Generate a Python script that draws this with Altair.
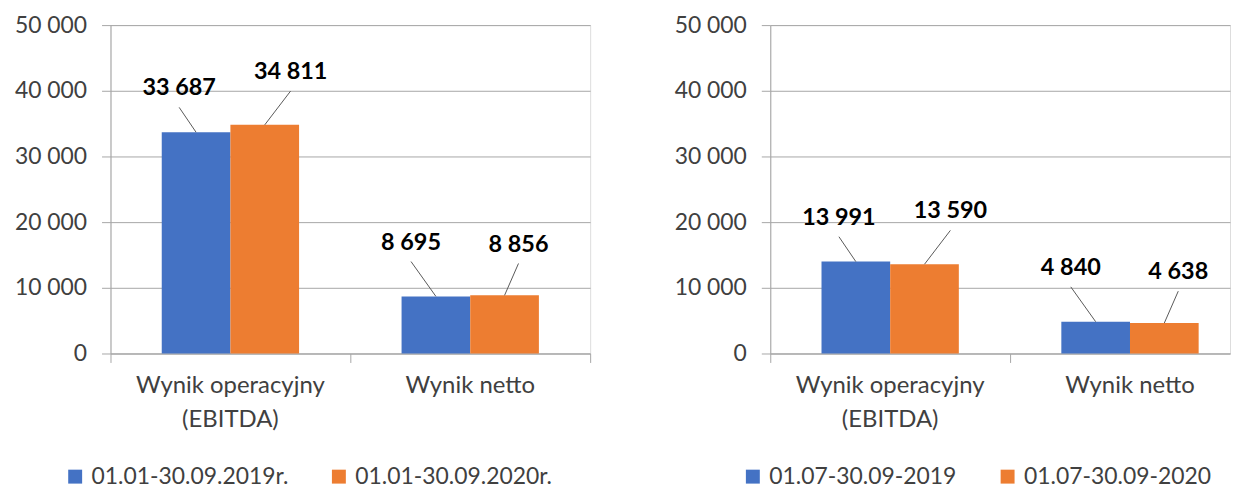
import altair as alt
import pandas as pd

# ---------------- data ----------------
categories = ["Wynik operacyjny\n(EBITDA)", "Wynik netto"]

left_series = ["01.01-30.09.2019r.", "01.01-30.09.2020r."]
left_2019 = [33687, 8695]
left_2020 = [34811, 8856]

right_series = ["01.07-30.09-2019", "01.07-30.09-2020"]
right_2019 = [13991, 4840]
right_2020 = [13590, 4638]

y_ticks = [0, 10000, 20000, 30000, 40000, 50000]
colors = ["#4472C4", "#ED7D31"]

# ---------------- styling ----------------
FONT = "Lato"
STEP = 241.0             # px per category band
PLOT_H = 330
PY = 50000.0 / PLOT_H    # data units per px (y)
BW = 69.0 / STEP         # bar width in band units
GRID = "#a6a6a6"
TXT = "#404040"


def panel(series, v1, v2, width, xmax, legend_x):
    rows = []
    for ci, cat in enumerate(categories):
        for si, vals in enumerate([v1, v2]):
            rows.append(dict(cat=cat, ci=ci, series=series[si], si=si, value=vals[ci]))
    df = pd.DataFrame(rows)

    xs = alt.Scale(domain=[0, xmax], nice=False, zero=False)
    ys = alt.Scale(domain=[0, 50000], nice=False)
    xax = alt.Axis(values=[0, 1, 2], labels=False, grid=False, tickSize=9,
                   tickColor=GRID, domainColor=GRID, title=None)
    yax = alt.Axis(values=y_ticks, labelExpr="replace(format(datum.value, ','), ',', ' ')",
                   tickSize=9, tickColor=GRID, domainColor=GRID, gridColor=GRID,
                   labelFont=FONT, labelFontSize=23, labelColor=TXT, labelPadding=15,
                   minExtent=96, maxExtent=96, title=None)

    base = alt.Chart(df).transform_calculate(
        xc=f"datum.ci + 0.5 + (datum.si - 0.5) * {BW}",
        x0=f"datum.xc - {BW / 2}",
        x1=f"datum.xc + {BW / 2}",
        dxpx="datum.ci == 0 ? (datum.si == 0 ? -17 : 26) : (datum.si == 0 ? -25 : 14)",
        rise="datum.ci == 0 ? (datum.si == 0 ? 44 : 53) : (datum.si == 0 ? 54 : 51)",
        lx=f"datum.xc + datum.dxpx / {STEP}",
        ly=f"datum.value + datum.rise * {PY}",
        lead_y=f"datum.value + (datum.rise - 19) * {PY}",
        txt="replace(format(datum.value, ','), ',', ' ')",
    )

    bars = base.mark_rect().encode(
        x=alt.X("x0:Q", scale=xs, axis=xax),
        x2="x1:Q",
        y=alt.Y("value:Q", scale=ys, axis=yax),
        y2=alt.datum(0),
        color=alt.Color("series:N", title=None,
                        scale=alt.Scale(domain=series, range=colors),
                        legend=alt.Legend(orient="none", legendX=legend_x, legendY=442,
                                          direction="horizontal", symbolType="square",
                                          symbolSize=196, symbolStrokeWidth=0,
                                          labelFont=FONT, labelFontSize=23, labelColor=TXT,
                                          labelOffset=5, columnPadding=39, labelLimit=400)),
    )

    leaders = base.mark_rule(color="#595959", strokeWidth=1).encode(
        x=alt.X("xc:Q", scale=xs, axis=xax),
        x2="lx:Q",
        y=alt.Y("value:Q", scale=ys, axis=yax),
        y2="lead_y:Q",
    )

    labels = base.mark_text(font=FONT, fontSize=23.5, fontWeight="bold", color="#000000",
                            align="center", baseline="middle").encode(
        x=alt.X("lx:Q", scale=xs, axis=xax),
        y=alt.Y("ly:Q", scale=ys, axis=yax),
        text="txt:N",
    )

    cat_df = pd.DataFrame({"cat": categories, "ci": list(range(len(categories)))})
    cat_labels = alt.Chart(cat_df).transform_calculate(
        cx="datum.ci + 0.5"
    ).mark_text(font=FONT, fontSize=24, color=TXT, align="center", baseline="top",
                dy=21, lineBreak="\n", lineHeight=34).encode(
        x=alt.X("cx:Q", scale=xs, axis=xax),
        y=alt.datum(0, scale=ys, axis=yax),
        text="cat:N",
    )

    return alt.layer(bars, leaders, labels, cat_labels).properties(width=width, height=PLOT_H)


left = panel(left_series, left_2019, left_2020, 482, 2.0, -47)
right = panel(right_series, right_2019, right_2020, 462, 462 / STEP, -29)

chart = alt.hconcat(left, right, spacing=82).resolve_scale(
    color="independent", x="independent", y="independent"
).properties(
    padding={"left": 5, "top": 4, "right": 0, "bottom": 0}
).configure_view(strokeWidth=0).configure(background="white")

chart.save("out.html", embed_options={"renderer": "svg", "actions": False})
